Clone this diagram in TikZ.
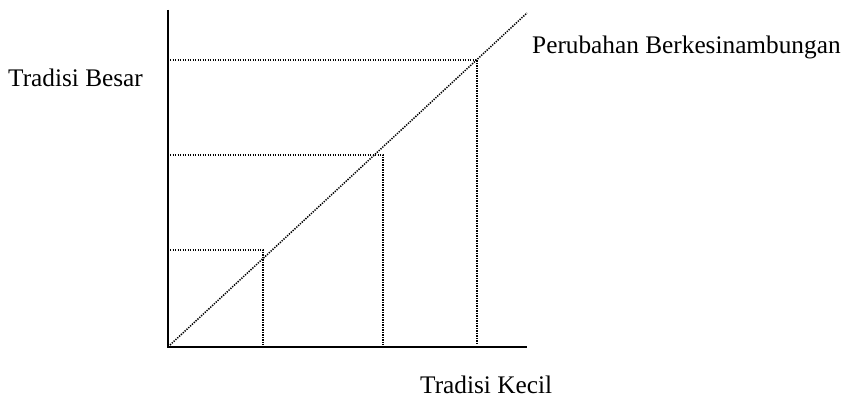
\documentclass[tikz,border=0pt]{standalone}
\usepackage{fontspec}
\setmainfont{Liberation Serif}
\begin{document}
\begin{tikzpicture}[x=1pt,y=-1pt,
  axis/.style={line width=1.8pt},
  dotline/.style={line width=1.5pt, dash pattern=on 1.3pt off 1.2pt},
  lab/.style={font=\fontsize{25.3}{29}\selectfont, inner sep=0pt}]
\useasboundingbox (0,0) rectangle (857,398);
% coordinates
\coordinate (O) at (168,347);
\coordinate (Ytop) at (168,10);
\coordinate (Xend) at (527,347);
\coordinate (D0) at (170,345);
\coordinate (D1) at (527,13);
\coordinate (H1) at (170,250); \coordinate (P1) at (263,250); \coordinate (B1) at (263,345);
\coordinate (H2) at (170,155); \coordinate (P2) at (383,155); \coordinate (B2) at (383,345);
\coordinate (H3) at (170,60);  \coordinate (P3) at (477,60);  \coordinate (B3) at (477,345);
% axes
\draw[axis] (Ytop) -- (O) -- (Xend);
% diagonal
\draw[dotline] (D0) -- (D1);
% guide lines
\draw[dotline] (H1) -- (P1) -- (B1);
\draw[dotline] (H2) -- (P2) -- (B2);
\draw[dotline] (H3) -- (P3) -- (B3);
% labels
\node[lab, anchor=west] (besar) at (8,78) {Tradisi Besar};
\node[lab, anchor=west] (perubahan) at (532,47) {Perubahan Berkesinambungan};
\node[lab, anchor=west] (kecil) at (420,385) {Tradisi Kecil};
\end{tikzpicture}
\end{document}
